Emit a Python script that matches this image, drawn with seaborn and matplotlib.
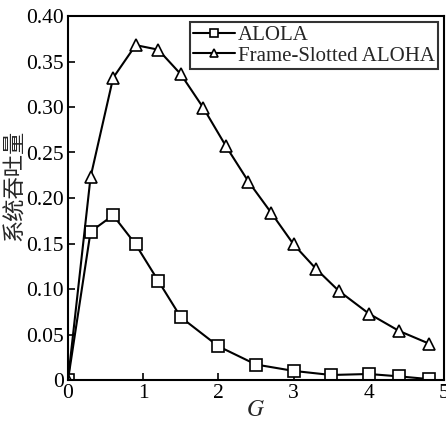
import matplotlib
matplotlib.use("Agg")
import matplotlib.pyplot as plt
import seaborn as sns
import pandas as pd

# values
alola_g = [0, 0.3, 0.6, 0.9, 1.2, 1.5, 2.0, 2.5, 3.0, 3.5, 4.0, 4.4, 4.8]
alola_s = [0, 0.163, 0.181, 0.149, 0.109, 0.069, 0.037, 0.017, 0.010, 0.0055, 0.0066, 0.004, 0.001]

fsa_g = [0, 0.3, 0.6, 0.9, 1.2, 1.5, 1.8, 2.1, 2.4, 2.7, 3.0, 3.3, 3.6, 4.0, 4.4, 4.8]
fsa_s = [0, 0.223, 0.332, 0.368, 0.363, 0.336, 0.299, 0.257, 0.218, 0.184, 0.149, 0.122, 0.098, 0.073, 0.054, 0.040]

x_ticks = [0, 1, 2, 3, 4, 5]
y_ticks = [0, 0.05, 0.10, 0.15, 0.20, 0.25, 0.30, 0.35, 0.40]
y_tick_labels = ["0", "0.05", "0.10", "0.15", "0.20", "0.25", "0.30", "0.35", "0.40"]

df_alola = pd.DataFrame({"G": alola_g, "S": alola_s})
df_fsa = pd.DataFrame({"G": fsa_g, "S": fsa_s})

sns.set_style("ticks")
plt.rcParams["font.family"] = ["Liberation Serif", "Noto Sans CJK SC", "DejaVu Sans"]
plt.rcParams["mathtext.fontset"] = "stix"

fig = plt.figure(figsize=(4.46, 4.23), dpi=100)
ax = fig.add_axes([68 / 446, 1 - 380 / 423, (444 - 68) / 446, (380 - 16) / 423])

sns.lineplot(data=df_alola, x="G", y="S", ax=ax, color="black", lw=1.5,
             marker="s", ms=8, mfc="white", mec="black", mew=1.2, label="ALOLA")
sns.lineplot(data=df_fsa, x="G", y="S", ax=ax, color="black", lw=1.5,
             marker="^", ms=9, mfc="white", mec="black", mew=1.2, label="Frame-Slotted ALOHA")

ax.set_xlim(0, 5)
ax.set_ylim(0, 0.40)
ax.set_xticks(x_ticks)
ax.set_yticks(y_ticks)
ax.set_yticklabels(y_tick_labels)
ax.tick_params(direction="in", length=5, width=1.2, labelsize=15.5, pad=3, colors="black")
for sp in ax.spines.values():
    sp.set_linewidth(1.5)
    sp.set_color("black")

ax.set_xlabel("$G$", fontsize=17, labelpad=-2)
ax.set_ylabel("系统吞吐量", fontsize=16, family=["Noto Sans CJK SC"])
ax.yaxis.set_label_coords(-0.112, 0.536)

leg = ax.legend(loc="upper right", fontsize=15, frameon=True, fancybox=False,
                edgecolor="black", handlelength=2.0, handletextpad=0.15,
                borderpad=0.15, labelspacing=0.05, markerscale=0.7,
                borderaxespad=0.3)
leg.get_frame().set_linewidth(1.5)

fig.savefig("out.png", dpi=100, facecolor="white")
